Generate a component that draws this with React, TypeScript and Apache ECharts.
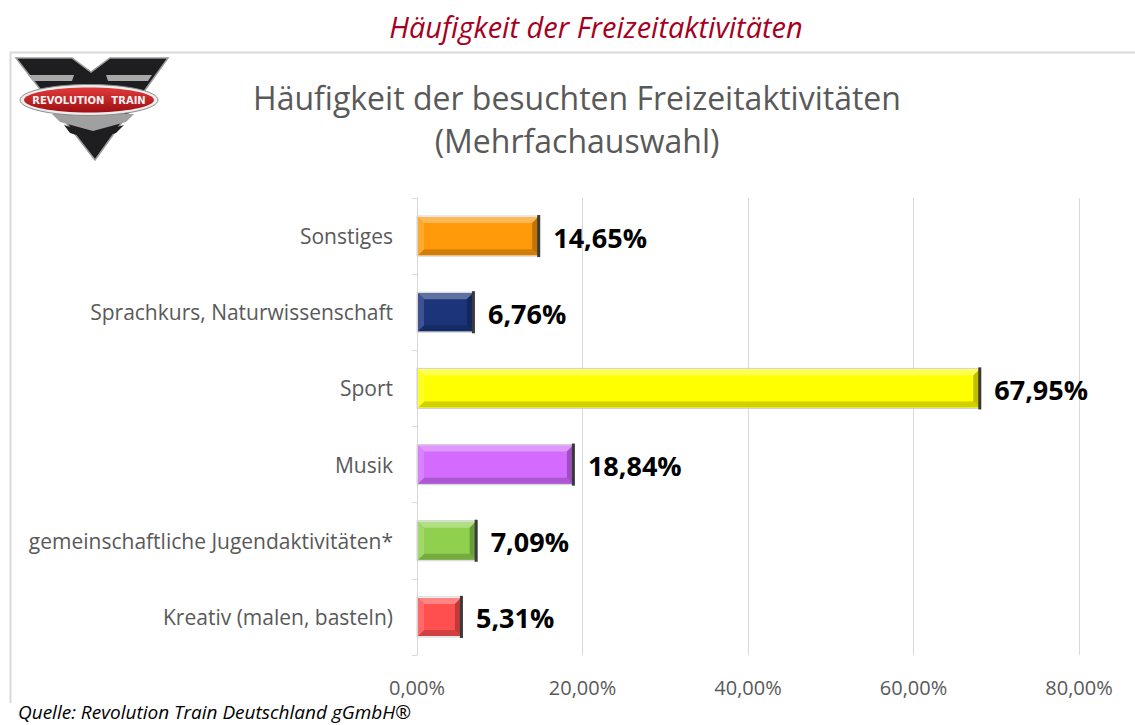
import React, { useEffect, useRef } from "react";
import * as echarts from "echarts";

const categories = [
  "Kreativ (malen, basteln)",
  "gemeinschaftliche Jugendaktivitäten*",
  "Musik",
  "Sport",
  "Sprachkurs, Naturwissenschaft",
  "Sonstiges",
];
const values = [5.31, 7.09, 18.84, 67.95, 6.76, 14.65];
const barColors = ["#FF4F4F", "#8FD14F", "#D36BFF", "#FFFF00", "#1B347A", "#FF9A0A"];
const xTicks = [0, 20, 40, 60, 80];

const FONT = "Open Sans";

function hexToRgb(h: string) {
  const n = parseInt(h.slice(1), 16);
  return [(n >> 16) & 255, (n >> 8) & 255, n & 255];
}
function mix(c: string, t: string, a: number) {
  const p = hexToRgb(c);
  const q = hexToRgb(t);
  const r = p.map((v, i) => Math.round(v + (q[i] - v) * a));
  return `rgb(${r[0]},${r[1]},${r[2]})`;
}
function fmt(v: number) {
  return v.toFixed(2).replace(".", ",") + "%";
}

export default function App() {
  const ref = useRef<HTMLDivElement>(null);
  useEffect(() => {
    if (!ref.current) return;
    const chart = echarts.init(ref.current, undefined, { renderer: "svg" });
    const data = values.map((v, i) => [v, i]);
    const option: any = {
      animation: false,
      backgroundColor: "#ffffff",
      grid: { left: 417, right: 56, top: 198, bottom: 70 },
      xAxis: {
        type: "value",
        min: xTicks[0],
        max: xTicks[xTicks.length - 1],
        interval: 20,
        axisLine: { show: false },
        axisTick: { show: false },
        splitLine: { lineStyle: { color: "#D9D9D9", width: 1 } },
        axisLabel: {
          color: "#595959",
          fontSize: 20,
          fontFamily: FONT,
          margin: 22,
          formatter: (v: number) => v.toFixed(2).replace(".", ",") + "%",
        },
      },
      yAxis: {
        type: "category",
        data: categories,
        axisLine: { show: true, lineStyle: { color: "#D9D9D9", width: 1 } },
        axisTick: { show: true, length: 5, lineStyle: { color: "#D9D9D9" } },
        axisLabel: { color: "#595959", fontSize: 21, fontFamily: FONT, margin: 24 },
      },
      series: [
        {
          type: "custom",
          data,
          encode: { x: 0, y: 1 },
          renderItem: (params: any, api: any) => {
            const v = api.value(0);
            const idx = api.value(1);
            const s = api.coord([0, idx]);
            const e = api.coord([v, idx]);
            const h = api.size([0, 1])[1] * 0.5;
            const x0 = s[0] + 1;
            const x1 = e[0];
            const y0 = s[1] - h / 2;
            const y1 = y0 + h;
            const b = 6;
            const base = barColors[idx];
            return {
              type: "group",
              children: [
                {
                  type: "rect",
                  shape: { x: x0 - 1, y: y0 - 1, width: x1 - x0 + 2, height: h + 2 },
                  style: { fill: "none", stroke: "#D0D0D0", lineWidth: 1 },
                },
                {
                  type: "rect",
                  shape: { x: x0, y: y0, width: x1 - x0, height: h },
                  style: { fill: base },
                },
                {
                  type: "polygon",
                  shape: { points: [[x0, y0], [x1, y0], [x1 - b, y0 + b], [x0 + b, y0 + b]] },
                  style: { fill: mix(base, "#ffffff", 0.3) },
                },
                {
                  type: "polygon",
                  shape: { points: [[x0, y1], [x1, y1], [x1 - b, y1 - b], [x0 + b, y1 - b]] },
                  style: { fill: mix(base, "#000000", 0.18) },
                },
                {
                  type: "polygon",
                  shape: { points: [[x0, y0], [x0 + b, y0 + b], [x0 + b, y1 - b], [x0, y1]] },
                  style: { fill: mix(base, "#ffffff", 0.15) },
                },
                {
                  type: "polygon",
                  shape: { points: [[x1, y0], [x1 - b, y0 + b], [x1 - b, y1 - b], [x1, y1]] },
                  style: { fill: mix(base, "#000000", 0.25) },
                },
                {
                  type: "line",
                  shape: { x1: x1 + 0.5, y1: y0 - 2, x2: x1 + 0.5, y2: y1 + 2 },
                  style: { stroke: "#3A3A3A", lineWidth: 3 },
                },
                {
                  type: "text",
                  style: {
                    text: fmt(v),
                    x: x1 + 15,
                    y: s[1] + 1,
                    fill: "#000000",
                    fontSize: 27,
                    fontWeight: "bold",
                    fontFamily: FONT,
                    textAlign: "left",
                    textVerticalAlign: "middle",
                  },
                },
              ],
            };
          },
        },
      ],
      graphic: [
        {
          type: "line",
          shape: { x1: 10, y1: 52.5, x2: 1135, y2: 52.5 },
          style: { stroke: "#D9D9D9", lineWidth: 2 },
        },
        {
          type: "line",
          shape: { x1: 10.5, y1: 52, x2: 10.5, y2: 703 },
          style: { stroke: "#D9D9D9", lineWidth: 2 },
        },
        {
          type: "text",
          x: 596,
          y: 26,
          style: {
            text: "Häufigkeit der Freizeitaktivitäten",
            fill: "#A50021",
            fontSize: 29,
            fontStyle: "italic",
            fontFamily: FONT,
            textAlign: "center",
            textVerticalAlign: "middle",
          },
        },
        {
          type: "text",
          x: 577,
          y: 97,
          style: {
            text: "Häufigkeit der besuchten Freizeitaktivitäten",
            fill: "#595959",
            fontSize: 32,
            fontFamily: FONT,
            textAlign: "center",
            textVerticalAlign: "middle",
          },
        },
        {
          type: "text",
          x: 577,
          y: 140,
          style: {
            text: "(Mehrfachauswahl)",
            fill: "#595959",
            fontSize: 32,
            fontFamily: FONT,
            textAlign: "center",
            textVerticalAlign: "middle",
          },
        },
        {
          type: "text",
          x: 18,
          y: 712,
          style: {
            text: "Quelle: Revolution Train Deutschland gGmbH®",
            fill: "#000000",
            fontSize: 19,
            fontStyle: "italic",
            fontFamily: FONT,
            textAlign: "left",
            textVerticalAlign: "middle",
          },
        },
        // logo
        {
          type: "group",
          children: [
            {
              type: "polygon",
              shape: { points: [[16, 58], [72, 58], [91, 72], [110, 58], [168, 58], [95, 160]] },
              style: { fill: "#1E1E20", stroke: "#9A9A9A", lineWidth: 1.5 },
            },
            {
              type: "polygon",
              shape: { points: [[28, 75], [74, 75], [72, 81], [33, 81]] },
              style: { fill: "#A8A8A8" },
            },
            {
              type: "polygon",
              shape: { points: [[106, 75], [152, 75], [148, 81], [108, 81]] },
              style: { fill: "#A8A8A8" },
            },
            {
              type: "polygon",
              shape: { points: [[52, 114], [134, 114], [126, 122], [93, 131], [60, 122]] },
              style: { fill: "#A0A0A0" },
            },
            {
              type: "polygon",
              shape: { points: [[64, 125], [93, 134], [124, 125], [116, 133], [93, 140], [70, 133]] },
              style: { fill: "#1E1E20" },
            },
            {
              type: "ellipse",
              shape: { cx: 89, cy: 100, rx: 69, ry: 15.5 },
              style: { fill: "#EDEDED", stroke: "#8A8A8A", lineWidth: 1 },
            },
            {
              type: "ellipse",
              shape: { cx: 89, cy: 100, rx: 65, ry: 12.5 },
              style: {
                fill: {
                  type: "linear",
                  x: 0,
                  y: 0,
                  x2: 0,
                  y2: 1,
                  colorStops: [
                    { offset: 0, color: "#E23A3A" },
                    { offset: 1, color: "#9E0E12" },
                  ],
                },
              },
            },
            {
              type: "text",
              x: 89,
              y: 100,
              style: {
                text: "REVOLUTION  TRAIN",
                fill: "#F2F2F2",
                fontSize: 10,
                fontWeight: "bold",
                fontFamily: "DejaVu Sans",
                textAlign: "center",
                textVerticalAlign: "middle",
              },
            },
          ],
        },
      ],
    };
    chart.setOption(option);
    return () => chart.dispose();
  }, []);
  return (
    <div
      ref={ref}
      style={{ position: "absolute", left: 0, top: 0, width: 1135, height: 725 }}
    />
  );
}
